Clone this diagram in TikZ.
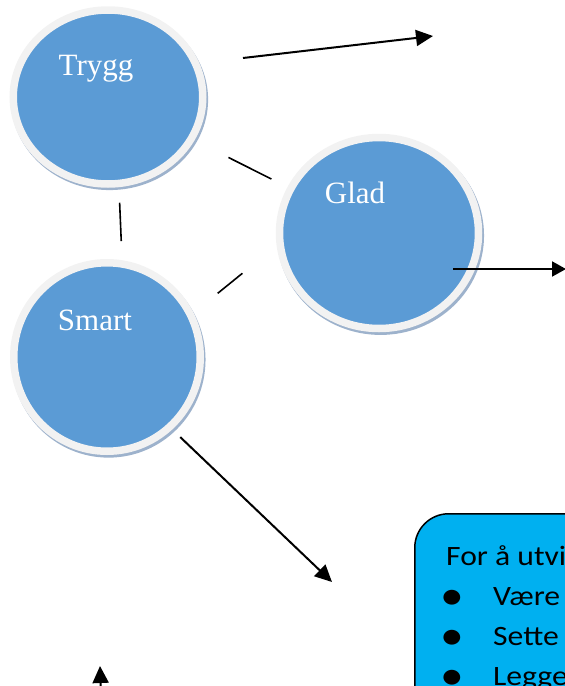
\documentclass[tikz,border=0pt]{standalone}
\usepackage{fontspec}
\setmainfont{Liberation Serif}
\newfontfamily\calibri[FakeStretch=1.13]{Carlito}
\usetikzlibrary{shapes.geometric,arrows.meta,shadows,positioning}

\definecolor{bubbleblue}{HTML}{5B9BD5}
\definecolor{ringgray}{HTML}{F2F2F2}
\definecolor{shadowblue}{HTML}{9DB2CC}
\definecolor{boxcyan}{HTML}{00B0F0}

\begin{document}
\begin{tikzpicture}[x=1pt,y=-1pt,
    bubble/.style={ellipse,draw=ringgray,line width=7.5pt,fill=bubbleblue,inner sep=0pt,drop shadow={shadow xshift=1.5pt,shadow yshift=-2.5pt,shadow scale=1.04,fill=shadowblue,opacity=1}},
    bubbletext/.style={font=\fontsize{31}{31}\selectfont,text=white,anchor=base,inner sep=0pt},
    link/.style={line width=1.6pt},
    arrow/.style={-{Triangle[length=17pt,width=16pt]},line width=2pt},
    infobox/.style={rectangle,draw,line width=1.5pt,fill=boxcyan,rounded corners=34pt,anchor=north west,minimum width=260pt,minimum height=260pt},
    boxtext/.style={font=\calibri\fontsize{28}{28}\selectfont,anchor=base west,inner sep=0pt},
    dot/.style={font=\calibri\fontsize{42}{42}\selectfont,anchor=base,inner sep=0pt}
]
\useasboundingbox (0,0) rectangle (565,686);
\clip (0,0) rectangle (565,686);

% Bubbles
\node[bubble,minimum width=189.5pt,minimum height=174pt] (trygg) at (108,97) {};
\node[bubble,minimum width=199pt,minimum height=191pt] (glad) at (379,233) {};
\node[bubble,minimum width=186.5pt,minimum height=188.5pt] (smart) at (107,357) {};

\node[bubbletext] (tryggtxt) at (96,75) {Trygg};
\node[bubbletext] (gladtxt) at (355,203) {Glad};
\node[bubbletext] (smarttxt) at (95,330) {Smart};

% Free ends of the arrows
\coordinate (topstart) at (243,58);
\coordinate (topend) at (433,36);
\coordinate (gladstart) at (453,269);
\coordinate (gladend) at (566,269);
\coordinate (smartend) at (332,582);
\coordinate (lowstart) at (102,720);
\coordinate (lowend) at (100,666);

% Links between the bubbles
\draw[link,shorten <=15pt,shorten >=18pt] ([xshift=11pt]trygg.south) -- ([xshift=15pt]smart.north);
\draw[link,shorten <=38pt,shorten >=18pt] (trygg) -- (glad);
\draw[link,shorten <=31pt,shorten >=44pt] (smart.27) -- (glad.187);

% Arrows
\draw[arrow] (topstart) -- (topend);
\draw[arrow,-{Triangle[length=14pt,width=15pt]}] (gladstart) -- (gladend);
\draw[arrow,shorten <=11pt] (smart.-48) -- (smartend);
\draw[arrow] (lowstart) -- (lowend);

% Text box
\node[infobox] (goalbox) at (414,513) {};
\node[boxtext] (goalhead) at (446,565) {For å utvi};
\node[dot] (dot1) at (452,609) {•};
\node[boxtext] (goal1) at (493,605) {Være};
\node[dot] (dot2) at (452,649) {•};
\node[boxtext] (goal2) at (493,645) {Sette};
\node[dot] (dot3) at (452,689) {•};
\node[boxtext] (goal3) at (493,685) {Legge};

\end{tikzpicture}
\end{document}
